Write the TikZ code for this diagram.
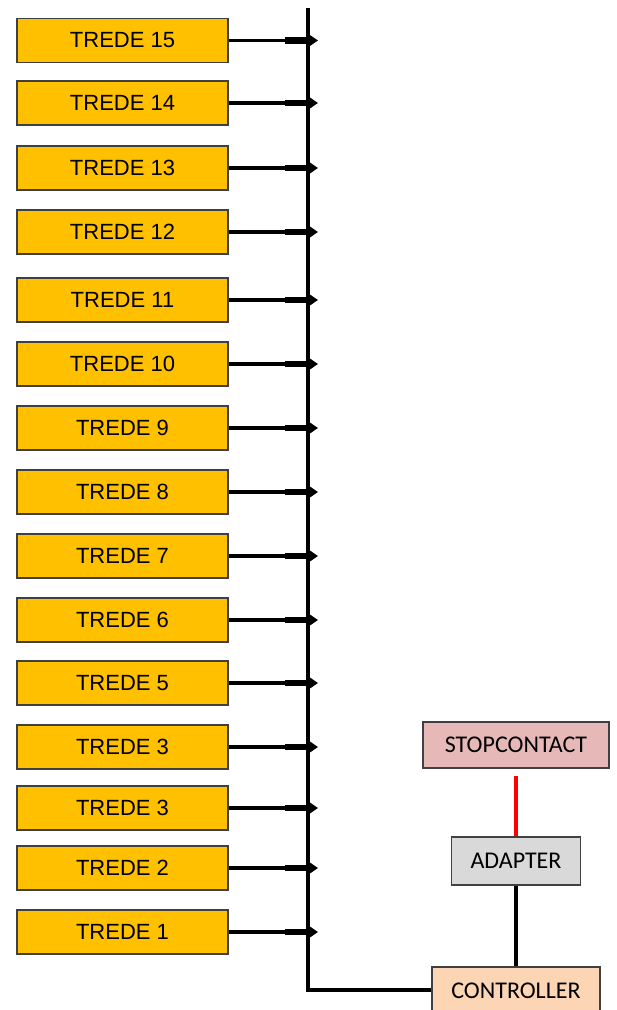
\documentclass[tikz,border=0pt]{standalone}
\usepackage{fontspec}
\setmainfont{Liberation Sans}
\newfontfamily\calfont{Carlito}
\usetikzlibrary{positioning,calc,arrows.meta}
\definecolor{tredeorange}{HTML}{FFC000}
\definecolor{ctrlpeach}{HTML}{FCD5B4}
\definecolor{stoppink}{HTML}{E6B9B8}
\definecolor{adaptergray}{HTML}{D9D9D9}

\begin{document}
\begin{tikzpicture}[x=1pt,y=-1pt,
    trede/.style={draw=black!75, line width=1.2pt, fill=tredeorange, minimum width=211pt, minimum height=44pt, inner sep=0pt, font=\fontsize{22}{26}\selectfont},
    unit/.style={draw=black!75, line width=1.2pt, inner sep=0pt, font=\calfont\fontsize{24}{28}\selectfont},
    feed/.style={line width=3.5pt, -{Triangle[length=10pt,width=13pt]}},
    bus/.style={line width=4pt}]
    \useasboundingbox (0,0) rectangle (617,1010);

    % Bus
    \coordinate (bustop) at (308,8);
    \coordinate (buscorner) at (308,990);

    % Trede units
    \foreach \y/\n [count=\i] in {40.5/15,103/14,168/13,232/12,300/11,364/10,428/9,492/8,556/7,620/6,683/5,747/3,808/3,868/2,932/1} {
        \node[trede] (trede\i) at (122.5,\y) {TREDE \n};
        \coordinate (tap\i) at (318,\y);
        \draw[feed] (trede\i.east) -- (tap\i);
        \draw[line width=6.5pt] ($(tap\i)+(-33,0)$) -- ($(tap\i)+(-10,0)$);
    }

    % Power supply
    \node[unit, fill=ctrlpeach, minimum width=168pt, minimum height=48pt] (ctrl) at (516,991) {CONTROLLER};
    \node[unit, fill=adaptergray, minimum width=129pt, minimum height=48pt] (adapter) at (516,861) {ADAPTER};
    \node[unit, fill=stoppink, minimum width=186pt, minimum height=46pt] (stop) at (516,745) {STOPCONTACT};

    % Lines
    \draw[bus] (bustop) -- (buscorner) -- (buscorner -| ctrl.west);
    \draw[line width=4pt] (adapter.south) -- (ctrl.north);
    \draw[red, line width=4pt, shorten <=7pt] (stop.south) -- (adapter.north);
\end{tikzpicture}
\end{document}
